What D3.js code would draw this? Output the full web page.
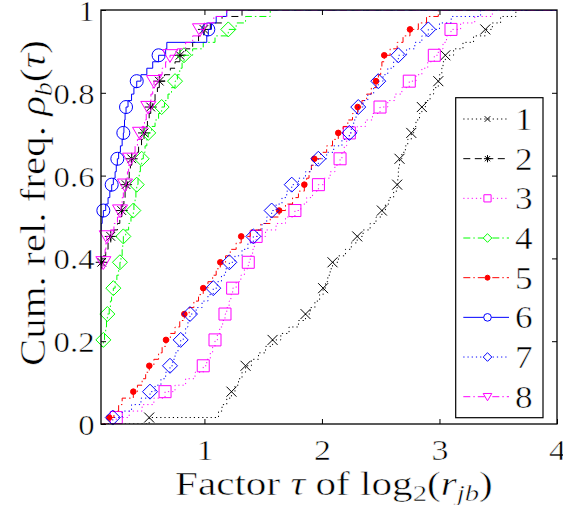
<!DOCTYPE html>
<html><head><meta charset="utf-8">
<script src="https://cdn.jsdelivr.net/npm/d3@7"></script>
<style>body{margin:0;background:#fff} text{font-family:"Liberation Serif","Times New Roman",serif;fill:#000;stroke:#fff;stroke-width:0.5px}</style>
</head><body>
<svg id="c" width="563" height="505"></svg>
<script>
// ---------------- data ----------------
const nProblems = 64;
const xTicks = [1, 2, 3, 4];
const yTicks = [0, 0.2, 0.4, 0.6, 0.8, 1];
const yTickLabels = ["0", "0.2", "0.4", "0.6", "0.8", "1"];
const seriesNames = ["1", "2", "3", "4", "5", "6", "7", "8"];

// sorted tau values (log2 ratio) for each solver, one per problem (0 = at/left of axis start)
const tau1 = [0.53,1.12,1.15,1.19,1.23,1.26,1.29,1.32,
  1.35,1.40,1.46,1.52,1.58,1.65,1.72,1.80,
  1.86,1.90,1.94,1.98,2.01,2.03,2.05,2.07,
  2.09,2.14,2.20,2.25,2.30,2.35,2.41,2.46,
  2.51,2.54,2.57,2.61,2.64,2.645,2.65,2.653,
  2.66,2.68,2.71,2.73,2.76,2.78,2.80,2.83,
  2.85,2.88,2.92,2.95,2.99,3.00,3.02,3.03,
  3.05,3.12,3.20,3.29,3.39,3.45,3.52,3.65];
const tau2 = [0,0,0,0,0,0,0,0,
  0,0,0,0,0,0,0,0,
  0,0,0,0,0,0,0.05,0.10,
  0.126,0.14,0.16,0.18,0.203,0.23,0.26,0.28,
  0.296,0.305,0.315,0.325,0.333,0.345,0.36,0.37,
  0.381,0.41,0.44,0.465,0.486,0.50,0.515,0.53,
  0.543,0.56,0.58,0.60,0.616,0.66,0.71,0.75,
  0.792,0.84,0.90,0.95,0.996,1.05,1.15,1.32];
const tau3 = [0.25,0.36,0.47,0.57,0.665,0.75,0.84,0.92,
  0.99,1.02,1.05,1.07,1.09,1.11,1.13,1.155,
  1.175,1.19,1.21,1.225,1.24,1.27,1.31,1.34,
  1.373,1.39,1.41,1.425,1.44,1.52,1.61,1.69,
  1.77,1.82,1.87,1.92,1.97,2.02,2.07,2.11,
  2.154,2.17,2.19,2.21,2.233,2.30,2.37,2.43,
  2.494,2.56,2.62,2.68,2.743,2.80,2.85,2.90,
  2.956,2.99,3.03,3.06,3.098,3.18,3.30,3.45];
const tau4 = [0,0,0,0,0,0,0,0,
  0,0,0.08,0.11,0.14,0.15,0.16,0.167,
  0.174,0.19,0.20,0.21,0.225,0.24,0.255,0.27,
  0.281,0.29,0.30,0.305,0.31,0.33,0.355,0.375,
  0.395,0.40,0.41,0.417,0.424,0.435,0.445,0.455,
  0.466,0.48,0.495,0.51,0.522,0.55,0.58,0.61,
  0.636,0.66,0.69,0.72,0.75,0.77,0.79,0.81,
  0.826,0.90,0.99,1.09,1.203,1.27,1.35,1.56];
const tau5 = [0.19,0.23,0.27,0.30,0.395,0.43,0.47,0.50,
  0.531,0.57,0.61,0.64,0.673,0.71,0.75,0.79,
  0.829,0.87,0.91,0.95,0.99,1.03,1.07,1.10,
  1.135,1.18,1.22,1.27,1.313,1.39,1.48,1.56,
  1.636,1.69,1.75,1.80,1.85,1.87,1.89,1.91,
  1.935,1.99,2.04,2.09,2.139,2.18,2.22,2.26,
  2.304,2.34,2.38,2.42,2.46,2.48,2.50,2.51,
  2.53,2.58,2.64,2.69,2.749,2.82,2.89,2.99];
const tau6 = [0,0,0,0,0,0,0,0,
  0,0,0,0,0,0,0,0,
  0,0,0,0,0,0,0,0,
  0,0,0,0,0.05,0.10,0.121,0.13,
  0.14,0.16,0.18,0.195,0.211,0.225,0.24,0.25,
  0.259,0.27,0.285,0.30,0.31,0.315,0.32,0.325,
  0.333,0.35,0.38,0.40,0.424,0.46,0.51,0.56,
  0.61,0.67,0.68,1.02,1.033,1.06,1.10,1.19];
const tau7 = [0.22,0.30,0.38,0.46,0.537,0.58,0.63,0.67,
  0.707,0.73,0.75,0.775,0.798,0.82,0.84,0.86,
  0.877,0.93,0.98,1.03,1.075,1.11,1.145,1.18,
  1.212,1.26,1.32,1.37,1.416,1.45,1.49,1.53,
  1.572,1.61,1.66,1.70,1.743,1.80,1.86,1.91,
  1.969,2.04,2.10,2.17,2.233,2.25,2.27,2.29,
  2.309,2.35,2.39,2.44,2.479,2.52,2.56,2.61,
  2.65,2.72,2.79,2.85,2.905,3.00,3.10,3.35];
const tau8 = [0,0,0,0,0,0,0,0,
  0,0,0,0,0,0,0,0,
  0,0,0,0,0,0,0.07,0.11,
  0.14,0.148,0.155,0.162,0.169,0.20,0.23,0.26,
  0.282,0.29,0.30,0.31,0.324,0.335,0.345,0.355,
  0.367,0.39,0.41,0.43,0.452,0.47,0.49,0.505,
  0.522,0.535,0.545,0.56,0.571,0.60,0.64,0.67,
  0.707,0.77,0.84,0.90,0.962,1.0,1.08,1.19];
const seriesTau = [tau1, tau2, tau3, tau4, tau5, tau6, tau7, tau8];

// ---------------- styles ----------------
const dotted = "1.2,3", dashed = "7,4.5", dashDot = "7,3,1.5,3";
const styles = [
  {color:"#000000", dash:dotted,  marker:"x"},
  {color:"#000000", dash:dashed,  marker:"star"},
  {color:"#ff00ff", dash:dotted,  marker:"square"},
  {color:"#00ff00", dash:dashDot, marker:"diamond"},
  {color:"#ff0000", dash:dashDot, marker:"dot"},
  {color:"#0000ff", dash:null,    marker:"circle"},
  {color:"#0000ff", dash:dotted,  marker:"diamond"},
  {color:"#ff00ff", dash:dashDot, marker:"triangle"}
];
const plotMarkerSize = {x:5, star:6, square:6, diamond:7.5, circle:6.5, dot:2.8, triangle:7.5};
const legMarkerSize  = {x:2.8, star:3.6, square:3.6, diamond:4.3, circle:3.8, dot:2.5, triangle:4.3};

function markerPath(type, s) {
  switch (type) {
    case "x": return `M${-s},${-s}L${s},${s}M${-s},${s}L${s},${-s}`;
    case "star": { const a = s*0.72; return `M0,${-s}L0,${s}M${-s},0L${s},0M${-a},${-a}L${a},${a}M${-a},${a}L${a},${-a}`; }
    case "square": return `M${-s},${-s}H${s}V${s}H${-s}Z`;
    case "diamond": return `M0,${-s}L${s},0L0,${s}L${-s},0Z`;
    case "circle": case "dot": return `M${s},0A${s},${s} 0 1,1 ${-s},0A${s},${s} 0 1,1 ${s},0Z`;
    case "triangle": return `M${-s},${-s*0.75}L${s},${-s*0.75}L0,${s*0.95}Z`;
  }
}

// ---------------- layout ----------------
const svg = d3.select("#c");
const L = 101, R = 557, T = 10, B = 424;
const x = d3.scaleLinear().domain([0.12, 4]).range([L, R]);
const y = d3.scaleLinear().domain([0, 1]).range([B, T]);
const stretch = 1.13;
// widen text horizontally, keeping its anchor position correct
function widen(sel, k) {
  sel.each(function() {
    const el = d3.select(this);
    const w = this.getComputedTextLength();
    const anchor = el.attr("text-anchor") || "start";
    const x0 = +(el.attr("x") || 0);
    const W = w * k;
    let xs = x0;
    if (anchor === "end") xs = x0 - W;
    else if (anchor === "middle") xs = x0 - W / 2;
    el.attr("text-anchor", "start").attr("x", xs)
      .attr("textLength", W).attr("lengthAdjust", "spacingAndGlyphs");
  });
}

svg.append("defs").append("clipPath").attr("id", "clip")
  .append("rect").attr("x", L).attr("y", T).attr("width", R - L).attr("height", B - T);

// ---------------- series ----------------
const line = d3.line().x(d => x(d[0])).y(d => y(d[1])).curve(d3.curveStepAfter);
const plot = svg.append("g");
seriesTau.forEach((tau, si) => {
  const st = styles[si];
  const pts = [[0, 0]].concat(tau.map((t, i) => [t, (i + 1) / nProblems])).concat([[4, 1]]);
  plot.append("path").attr("d", line(pts)).attr("clip-path", "url(#clip)")
    .attr("fill", "none").attr("stroke", st.color).attr("stroke-width", 1)
    .attr("stroke-dasharray", st.dash);
  const mk = tau.map((t, i) => ({t, r: (i + 1) / nProblems, i}))
    .filter(d => d.i % 4 === 0 && d.t >= x.domain()[0]);
  plot.selectAll(null).data(mk).join("path")
    .attr("transform", d => `translate(${x(d.t)},${y(d.r)})`)
    .attr("d", markerPath(st.marker, plotMarkerSize[st.marker]))
    .attr("fill", st.marker === "dot" ? st.color : "none")
    .attr("stroke", st.color).attr("stroke-width", 1);
});

// ---------------- axes ----------------
svg.append("rect").attr("x", L).attr("y", T).attr("width", R - L).attr("height", B - T)
  .attr("fill", "none").attr("stroke", "#000").attr("stroke-width", 1.3);

const gx = svg.append("g").attr("transform", `translate(0,${B})`)
  .call(d3.axisBottom(x).tickValues(xTicks).tickSizeInner(-5).tickSizeOuter(0).tickPadding(14.5).tickFormat(d3.format("d")));
const gy = svg.append("g").attr("transform", `translate(${L},0)`)
  .call(d3.axisLeft(y).tickValues(yTicks).tickSizeInner(-5).tickSizeOuter(0).tickPadding(6.5).tickFormat((d, i) => yTickLabels[i]));
svg.append("g").attr("transform", `translate(0,${T})`)
  .call(d3.axisTop(x).tickValues(xTicks.slice(0, 3)).tickSizeInner(-5).tickSizeOuter(0).tickFormat(""));
svg.append("g").attr("transform", `translate(${R},0)`)
  .call(d3.axisRight(y).tickValues(yTicks.slice(1, 5)).tickSizeInner(-5).tickSizeOuter(0).tickFormat(""));
svg.selectAll(".domain").remove();
svg.selectAll(".tick line").attr("stroke", "#000").attr("stroke-width", 1);
gx.selectAll("text").attr("font-family", null).style("font-size", "30px").attr("fill", "#000").attr("text-anchor", "middle");
gy.selectAll("text").attr("font-family", null).style("font-size", "29px").attr("fill", "#000")
  .attr("text-anchor", "end").attr("dy", null).attr("y", 10.5);
widen(gx.selectAll("text"), stretch);
widen(gy.selectAll("text"), stretch);

// axis labels: scaled horizontally along the text direction to fit the measured span
function fitLabel(sel, targetLen, tx, ty, rot) {
  const w = sel.node().getComputedTextLength();
  const k = targetLen / w;
  sel.attr("transform", `translate(${tx},${ty}) rotate(${rot}) scale(${k},1)`);
}
const xl = svg.append("text").attr("x", 0).attr("y", 0).attr("text-anchor", "start").style("font-size", "33px");
xl.append("tspan").text("Factor ");
xl.append("tspan").attr("font-style", "italic").text("τ");
xl.append("tspan").text(" of log");
xl.append("tspan").attr("dy", 6).style("font-size", "23px").text("2");
xl.append("tspan").attr("dy", -6).text("(");
xl.append("tspan").attr("font-style", "italic").text("r");
xl.append("tspan").attr("dy", 6).attr("font-style", "italic").style("font-size", "23px").text("jb");
xl.append("tspan").attr("dy", -6).text(")");
fitLabel(xl, 318, 175, 495, 0);

const yl = svg.append("text").attr("x", 0).attr("y", 0).attr("text-anchor", "start").style("font-size", "36px");
yl.append("tspan").text("Cum. rel. freq. ");
yl.append("tspan").attr("font-style", "italic").text("ρ");
yl.append("tspan").attr("dy", 7).attr("font-style", "italic").style("font-size", "25px").text("b");
yl.append("tspan").attr("dy", -7).text("(");
yl.append("tspan").attr("font-style", "italic").text("τ");
yl.append("tspan").text(")");
fitLabel(yl, 326, 45, 366, -90);

// ---------------- legend ----------------
const leg = svg.append("g");
leg.append("rect").attr("x", 455.7).attr("y", 97.7).attr("width", 87.3).attr("height", 320)
  .attr("fill", "#fff").attr("stroke", "#000").attr("stroke-width", 1.2);
const ly = d3.scaleLinear().domain([0, 7]).range([119, 396.7]);
seriesNames.forEach((name, i) => {
  const st = styles[i];
  const cy = ly(i);
  leg.append("line").attr("x1", 463.3).attr("x2", 509).attr("y1", cy).attr("y2", cy)
    .attr("stroke", st.color).attr("stroke-width", 1).attr("stroke-dasharray", st.dash);
  leg.append("path").attr("transform", `translate(487.5,${cy})`)
    .attr("d", markerPath(st.marker, legMarkerSize[st.marker]))
    .attr("fill", st.marker === "dot" ? st.color : (st.marker === "x" || st.marker === "star" ? "none" : "#fff"))
    .attr("stroke", st.color).attr("stroke-width", 1);
  const t = leg.append("text").attr("x", 515).attr("y", cy + 11).style("font-size", "32px").text(name);
  widen(t, 1.1);
});
</script>
</body></html>
